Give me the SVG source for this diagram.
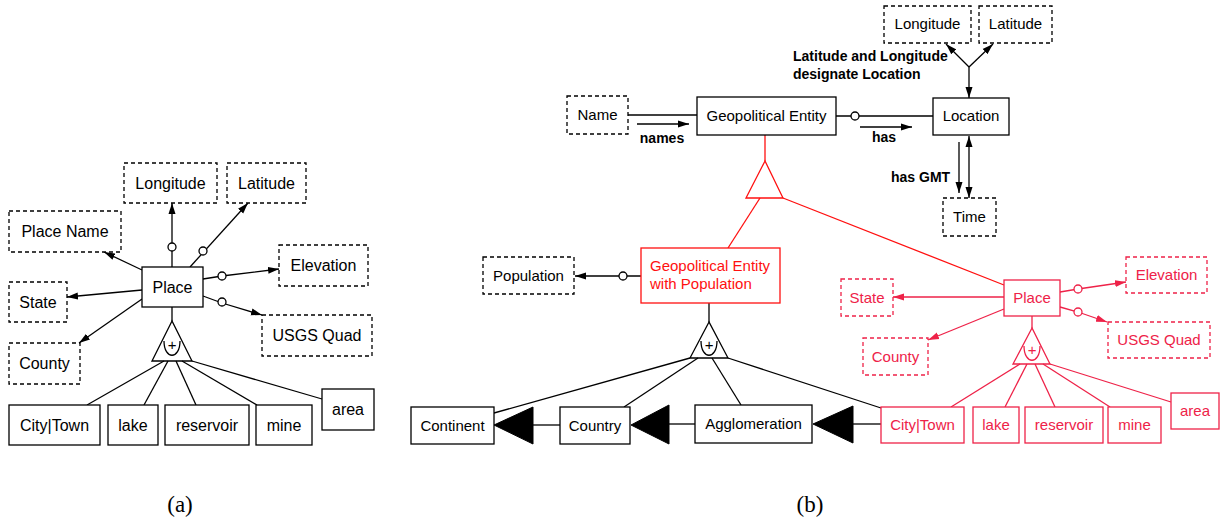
<svg xmlns="http://www.w3.org/2000/svg" width="1221" height="523" viewBox="0 0 1221 523">
  <style>
    .box { fill: #fff; stroke: #000; stroke-width: 1.3; }
    .dash { fill: #fff; stroke: #000; stroke-width: 1.3; stroke-dasharray: 4 3; }
    .ln { fill: none; stroke: #000; stroke-width: 1.3; }
    .t { font-family: "Liberation Sans", Arial, sans-serif; font-size: 16px; text-anchor: middle; fill: #000; }
    .tb { font-family: "Liberation Sans", Arial, sans-serif; font-size: 15px; text-anchor: middle; fill: #000; }
    .lbl { font-family: "Liberation Sans", Arial, sans-serif; font-size: 14px; font-weight: bold; fill: #000; }
    .cap { font-family: "Liberation Serif", "Times New Roman", serif; font-size: 23px; text-anchor: middle; fill: #000; }
    .opt { fill: #fff; stroke: #000; stroke-width: 1.3; }
    .red .box, .red .dash, .red .ln, .red .opt { stroke: #ff1010; }
    .red .tb { fill: #ff1010; }
    .crim .box, .crim .dash, .crim .ln, .crim .opt { stroke: #ee2248; }
    .crim .tb { fill: #ee2248; }
    .agg { fill: #000; stroke: #000; stroke-width: 1; }
    .xu { fill: none; stroke-width: 1.3; }
    .xp { font-family: "Liberation Sans", Arial, sans-serif; font-size: 15px; text-anchor: middle; }
  </style>
  <defs>
    <marker id="ah" markerUnits="userSpaceOnUse" markerWidth="11" markerHeight="8" refX="11" refY="4" orient="auto">
      <path d="M0,0.5 L11,4 L0,7.5 z" fill="#000"/>
    </marker>
    <marker id="ahs" markerUnits="userSpaceOnUse" markerWidth="11" markerHeight="8" refX="0" refY="4" orient="auto">
      <path d="M11,0.5 L0,4 L11,7.5 z" fill="#000"/>
    </marker>
    <marker id="ahc" markerUnits="userSpaceOnUse" markerWidth="11" markerHeight="8" refX="11" refY="4" orient="auto">
      <path d="M0,0.5 L11,4 L0,7.5 z" fill="#ee2248"/>
    </marker>
    <!-- exclusive-or mark drawn inside a generalisation triangle -->
    <g id="xor-k">
      <path class="xu" d="M-8,-4 C-8,15 8,15 8,-4" stroke="#000"/>
      <text class="xp" x="0" y="5" fill="#000">+</text>
    </g>
    <g id="xor-c">
      <path class="xu" d="M-8,-4 C-8,15 8,15 8,-4" stroke="#ee2248"/>
      <text class="xp" x="0" y="5" fill="#ee2248">+</text>
    </g>
  </defs>

  <!-- ===================== (a) ===================== -->
  <g id="a-connectors">
    <line class="ln" x1="172" y1="267" x2="172" y2="203" marker-end="url(#ah)"/>
    <circle class="opt" cx="172" cy="247" r="4"/>
    <line class="ln" x1="190" y1="267" x2="248" y2="203" marker-end="url(#ah)"/>
    <circle class="opt" cx="203" cy="251" r="4"/>
    <line class="ln" x1="142" y1="270" x2="104" y2="252" marker-end="url(#ah)"/>
    <polyline class="ln" points="203,279 222,276 279,269" marker-end="url(#ah)"/>
    <circle class="opt" cx="222" cy="276" r="4"/>
    <line class="ln" x1="142" y1="290" x2="67" y2="297" marker-end="url(#ah)"/>
    <polyline class="ln" points="203,296 222,303 262,315" marker-end="url(#ah)"/>
    <circle class="opt" cx="222" cy="302" r="4"/>
    <line class="ln" x1="142" y1="299" x2="79" y2="343" marker-end="url(#ah)"/>
    <line class="ln" x1="172" y1="307" x2="172" y2="321"/>
    <polygon class="box" points="172,321 152,361 192,361"/>
    <use href="#xor-k" x="172" y="345"/>
    <line class="ln" x1="164" y1="361" x2="87" y2="405"/>
    <line class="ln" x1="168" y1="361" x2="144" y2="405"/>
    <line class="ln" x1="176" y1="361" x2="196" y2="405"/>
    <line class="ln" x1="182" y1="361" x2="257" y2="405"/>
    <line class="ln" x1="192" y1="361" x2="322" y2="399"/>
  </g>

  <g id="a-longitude"><rect class="dash" x="124" y="163" width="93" height="40"/><text class="t" x="170.5" y="189">Longitude</text></g>
  <g id="a-latitude"><rect class="dash" x="227" y="163" width="79" height="40"/><text class="t" x="266.5" y="189">Latitude</text></g>
  <g id="a-placename"><rect class="dash" x="9" y="211" width="112" height="41"/><text class="t" x="65" y="237">Place Name</text></g>
  <g id="a-elevation"><rect class="dash" x="279" y="245" width="89" height="41"/><text class="t" x="323.5" y="271">Elevation</text></g>
  <g id="a-place"><rect class="box" x="142" y="267" width="61" height="40"/><text class="t" x="172.5" y="293">Place</text></g>
  <g id="a-state"><rect class="dash" x="9" y="282" width="58" height="40"/><text class="t" x="38" y="308">State</text></g>
  <g id="a-usgs"><rect class="dash" x="262" y="315" width="110" height="41"/><text class="t" x="317" y="341">USGS Quad</text></g>
  <g id="a-county"><rect class="dash" x="9" y="343" width="71" height="41"/><text class="t" x="44.5" y="369">County</text></g>
  <g id="a-citytown"><rect class="box" x="9" y="405" width="91" height="40"/><text class="t" x="54.5" y="431">City|Town</text></g>
  <g id="a-lake"><rect class="box" x="108" y="405" width="50" height="40"/><text class="t" x="133" y="431">lake</text></g>
  <g id="a-reservoir"><rect class="box" x="165" y="405" width="84" height="40"/><text class="t" x="207" y="431">reservoir</text></g>
  <g id="a-mine"><rect class="box" x="256" y="405" width="56" height="40"/><text class="t" x="284" y="431">mine</text></g>
  <g id="a-area"><rect class="box" x="322" y="389" width="52" height="41"/><text class="t" x="348" y="415">area</text></g>

  <text class="cap" x="180" y="512">(a)</text>

  <!-- ===================== (b) ===================== -->
  <g id="b-connectors">
    <!-- Name / Geopolitical Entity -->
    <line class="ln" x1="628" y1="115" x2="697" y2="115"/>
    <line class="ln" x1="637" y1="124" x2="689" y2="124" marker-end="url(#ah)"/>
    <text class="lbl" x="662" y="143" text-anchor="middle">names</text>
    <!-- Geopolitical Entity / Location -->
    <line class="ln" x1="836" y1="116" x2="933" y2="116"/>
    <circle class="opt" cx="855" cy="116" r="4"/>
    <line class="ln" x1="860" y1="127" x2="912" y2="127" marker-end="url(#ah)"/>
    <text class="lbl" x="884" y="142" text-anchor="middle">has</text>
    <!-- Latitude and Longitude designate Location -->
    <line class="ln" x1="969" y1="67" x2="969" y2="98" marker-end="url(#ah)"/>
    <line class="ln" x1="969" y1="67" x2="946" y2="44" marker-end="url(#ah)"/>
    <line class="ln" x1="969" y1="67" x2="993" y2="44" marker-end="url(#ah)"/>
    <text class="lbl" x="793" y="61">Latitude and Longitude</text>
    <text class="lbl" x="793" y="79">designate Location</text>
    <!-- Location / Time -->
    <line class="ln" x1="959" y1="142" x2="959" y2="193" marker-end="url(#ah)"/>
    <line class="ln" x1="969" y1="136" x2="969" y2="198" marker-start="url(#ahs)" marker-end="url(#ah)"/>
    <text class="lbl" x="891" y="182">has GMT</text>
    <!-- Population -->
    <line class="ln" x1="641" y1="276" x2="575" y2="276" marker-end="url(#ah)"/>
    <circle class="opt" cx="623" cy="276" r="4"/>
    <!-- black generalisation under Geopolitical Entity with Population -->
    <line class="ln" x1="709" y1="303" x2="709" y2="322"/>
    <polygon class="box" points="709,322 690,358 728,358"/>
    <use href="#xor-k" x="709" y="345"/>
    <line class="ln" x1="690" y1="358" x2="494" y2="413"/>
    <line class="ln" x1="698" y1="358" x2="624" y2="407"/>
    <line class="ln" x1="712" y1="358" x2="741" y2="405"/>
    <line class="ln" x1="728" y1="358" x2="881" y2="408"/>
    <!-- part-of chain -->
    <line class="ln" x1="533" y1="425" x2="560" y2="425"/>
    <polygon class="agg" points="494,425 533,407 533,444"/>
    <line class="ln" x1="669" y1="424" x2="695" y2="424"/>
    <polygon class="agg" points="631,425 669,405 669,444"/>
    <line class="ln" x1="853" y1="424" x2="881" y2="424"/>
    <polygon class="agg" points="813,424 853,406 853,443"/>
  </g>

  <g class="red" id="b-red-connectors">
    <line class="ln" x1="765" y1="135" x2="765" y2="161"/>
    <polygon class="box" points="765,161 746,198 783,198"/>
    <line class="ln" x1="760" y1="198" x2="728" y2="248"/>
    <line class="ln" x1="783" y1="198" x2="1004" y2="285"/>
  </g>

  <g class="crim" id="b-place-connectors">
    <line class="ln" x1="1004" y1="297" x2="893" y2="297" marker-end="url(#ahc)"/>
    <line class="ln" x1="1004" y1="309" x2="928" y2="340" marker-end="url(#ahc)"/>
    <polyline class="ln" points="1060,292 1078,289 1126,282" marker-end="url(#ahc)"/>
    <circle class="opt" cx="1078" cy="289" r="4"/>
    <polyline class="ln" points="1060,307 1078,312 1107,322" marker-end="url(#ahc)"/>
    <circle class="opt" cx="1078" cy="312" r="4"/>
    <line class="ln" x1="1032" y1="316" x2="1032" y2="328"/>
    <polygon class="box" points="1032,328 1013,364 1050,364"/>
    <use href="#xor-c" x="1032" y="350"/>
    <line class="ln" x1="1020" y1="364" x2="951" y2="407"/>
    <line class="ln" x1="1027" y1="364" x2="1005" y2="407"/>
    <line class="ln" x1="1035" y1="364" x2="1055" y2="407"/>
    <line class="ln" x1="1043" y1="364" x2="1110" y2="407"/>
    <line class="ln" x1="1050" y1="364" x2="1171" y2="402"/>
  </g>

  <g id="b-name"><rect class="dash" x="567" y="96" width="61" height="38"/><text class="tb" x="597.5" y="120">Name</text></g>
  <g id="b-geo"><rect class="box" x="697" y="97" width="139" height="38"/><text class="tb" x="766.5" y="121">Geopolitical Entity</text></g>
  <g id="b-location"><rect class="box" x="933" y="98" width="76" height="37"/><text class="tb" x="971" y="121">Location</text></g>
  <g id="b-longitude"><rect class="dash" x="884" y="6" width="87" height="37"/><text class="tb" x="927.5" y="29">Longitude</text></g>
  <g id="b-latitude"><rect class="dash" x="979" y="6" width="73" height="37"/><text class="tb" x="1015.5" y="29">Latitude</text></g>
  <g id="b-time"><rect class="dash" x="943" y="198" width="53" height="38"/><text class="tb" x="969.5" y="222">Time</text></g>
  <g id="b-population"><rect class="dash" x="483" y="257" width="91" height="37"/><text class="tb" x="528.5" y="281">Population</text></g>
  <g id="b-geopop" class="red">
    <rect class="box" x="641" y="248" width="139" height="55"/>
    <text class="tb" x="650" y="271" style="text-anchor:start">Geopolitical Entity</text>
    <text class="tb" x="650" y="289" style="text-anchor:start">with Population</text>
  </g>
  <g id="b-continent"><rect class="box" x="411" y="407" width="83" height="37"/><text class="tb" x="452.5" y="431">Continent</text></g>
  <g id="b-country"><rect class="box" x="560" y="407" width="70" height="37"/><text class="tb" x="595" y="431">Country</text></g>
  <g id="b-agglomeration"><rect class="box" x="695" y="405" width="117" height="38"/><text class="tb" x="753.5" y="429">Agglomeration</text></g>

  <g id="b-place" class="crim"><rect class="box" x="1004" y="280" width="56" height="36"/><text class="tb" x="1032" y="303">Place</text></g>
  <g id="b-state" class="crim"><rect class="dash" x="841" y="279" width="52" height="37"/><text class="tb" x="867" y="303">State</text></g>
  <g id="b-county" class="crim"><rect class="dash" x="863" y="338" width="65" height="37"/><text class="tb" x="895.5" y="362">County</text></g>
  <g id="b-elevation" class="crim"><rect class="dash" x="1126" y="257" width="81" height="36"/><text class="tb" x="1166.5" y="280">Elevation</text></g>
  <g id="b-usgs" class="crim"><rect class="dash" x="1108" y="322" width="102" height="36"/><text class="tb" x="1159" y="345">USGS Quad</text></g>
  <g id="b-citytown" class="crim"><rect class="box" x="881" y="407" width="83" height="36"/><text class="tb" x="922.5" y="430">City|Town</text></g>
  <g id="b-lake" class="crim"><rect class="box" x="973" y="407" width="46" height="36"/><text class="tb" x="996" y="430">lake</text></g>
  <g id="b-reservoir" class="crim"><rect class="box" x="1025" y="407" width="78" height="36"/><text class="tb" x="1064" y="430">reservoir</text></g>
  <g id="b-mine" class="crim"><rect class="box" x="1108" y="407" width="53" height="36"/><text class="tb" x="1134.5" y="430">mine</text></g>
  <g id="b-area" class="crim"><rect class="box" x="1171" y="393" width="48" height="36"/><text class="tb" x="1195" y="416">area</text></g>

  <text class="cap" x="810" y="512">(b)</text>
</svg>
